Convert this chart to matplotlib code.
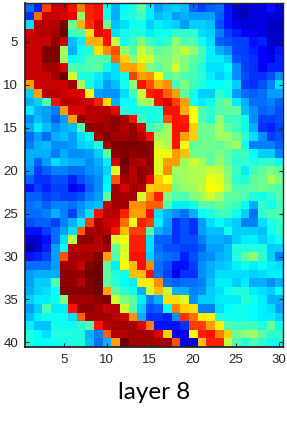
import matplotlib
matplotlib.use('Agg')
import matplotlib.pyplot as plt
import numpy as np
from matplotlib.colors import ListedColormap

# one row per line, values are indices into a 64 level jet map
layer_values = [
    [14,9,52,58,58,55,48,54,55,24,18,23,25,29,22,17,19,20,19,13,11,13,14,8,5,3,5,5,8,5],
    [10,49,58,58,57,56,32,54,55,24,18,24,25,27,22,19,20,17,18,17,17,17,13,8,4,2,5,5,5,4],
    [21,59,59,59,62,30,45,53,57,30,19,21,24,24,20,22,21,20,17,20,20,19,12,8,6,5,5,5,3,3],
    [57,59,59,60,63,27,28,42,56,55,21,24,25,25,22,24,24,26,26,26,21,20,15,11,9,7,6,5,3,4],
    [58,58,58,61,58,19,22,45,45,55,35,24,27,31,27,25,26,32,28,28,24,21,13,12,11,11,8,9,4,3],
    [58,58,62,62,33,18,24,25,42,47,51,32,28,36,32,29,30,32,35,32,28,22,18,16,11,11,9,7,5,8],
    [58,58,62,62,33,23,25,28,28,28,49,43,32,37,36,31,31,33,31,29,27,22,22,20,12,11,10,7,6,9],
    [58,58,60,60,57,28,27,28,29,24,21,46,46,43,31,29,31,36,31,28,25,21,21,23,16,11,10,6,9,9],
    [58,58,58,60,63,36,25,25,22,19,21,24,52,46,47,40,28,30,28,27,26,22,20,22,16,12,10,10,12,16],
    [46,58,58,58,58,60,33,24,21,17,19,24,32,55,51,45,47,27,31,27,25,23,23,24,20,11,10,12,15,21],
    [20,46,59,59,58,57,57,40,17,16,16,21,27,36,54,55,50,46,29,24,20,20,26,24,17,14,13,14,17,17],
    [18,20,28,55,59,59,58,58,54,42,18,23,24,33,33,55,57,52,46,24,22,24,28,30,22,18,14,14,15,13],
    [22,18,17,15,46,57,57,59,59,59,56,25,24,25,25,25,55,55,45,40,28,26,28,29,29,19,16,13,14,12],
    [16,19,17,13,17,46,61,59,59,60,61,60,55,27,24,25,51,55,54,40,28,25,32,27,27,24,16,11,11,12],
    [18,22,19,16,18,19,28,61,61,60,61,59,61,57,27,29,33,55,55,43,30,30,33,29,27,24,18,10,9,11],
    [14,17,14,18,19,17,21,24,60,62,60,60,61,59,55,33,33,55,46,43,30,30,33,33,30,26,21,16,11,12],
    [15,18,19,16,16,17,20,21,25,60,62,62,62,62,61,36,34,55,38,29,30,30,29,31,33,24,15,15,15,13],
    [18,18,18,15,18,16,16,17,20,29,61,62,61,62,61,38,38,46,44,30,30,29,31,29,27,27,23,20,20,15],
    [18,13,17,21,19,18,18,16,18,22,57,63,60,59,61,37,46,46,33,36,33,29,32,29,26,26,25,26,26,23],
    [17,11,13,15,15,14,14,16,17,20,37,62,59,61,60,37,47,33,33,34,34,36,35,31,27,22,27,29,31,29],
    [13,10,10,12,12,9,12,14,16,22,51,60,59,61,56,43,39,32,33,34,34,38,37,32,26,25,29,30,34,31],
    [8,11,9,11,11,6,8,13,16,23,60,57,60,59,43,44,44,30,32,33,35,40,38,33,28,28,29,30,29,28],
    [13,13,11,12,11,11,12,15,17,29,60,60,60,36,47,54,31,28,28,31,33,36,33,29,29,28,25,24,26,28],
    [14,15,13,15,15,14,16,18,19,58,60,60,47,47,50,50,28,22,22,24,28,28,30,28,27,23,18,26,24,27],
    [14,14,15,18,15,11,17,21,55,59,59,54,46,46,55,21,18,16,14,18,23,25,27,27,24,20,14,26,28,28],
    [12,13,13,11,15,18,22,52,60,58,57,49,38,54,52,22,17,10,12,10,17,21,23,21,20,15,15,21,25,26],
    [8,8,11,14,17,21,50,60,60,59,55,44,52,52,29,18,16,10,12,10,17,19,19,24,20,20,20,19,24,26],
    [4,4,8,14,21,35,61,61,59,62,36,38,54,54,21,13,13,10,12,12,15,18,18,17,20,22,22,20,22,24],
    [1,4,9,17,23,59,59,59,59,60,29,36,54,54,21,14,12,12,11,11,13,17,17,19,25,25,25,25,20,20],
    [8,9,11,17,51,60,60,60,62,46,28,37,55,55,20,15,14,13,9,12,15,16,18,19,25,29,32,26,20,15],
    [14,14,14,17,60,60,58,62,63,29,22,40,44,55,47,14,12,8,8,11,16,18,19,20,22,24,22,24,22,21],
    [17,18,18,18,61,61,61,63,63,29,25,24,44,44,55,14,11,6,10,10,16,18,21,21,21,21,20,21,22,22],
    [17,20,20,28,61,61,59,62,63,29,26,23,22,41,41,47,14,13,14,14,15,19,22,22,20,22,18,18,16,18],
    [18,20,21,23,62,62,62,62,63,46,29,26,24,18,36,44,35,18,18,15,16,20,21,24,25,25,22,21,20,23],
    [20,22,22,24,31,60,60,60,61,62,36,31,29,22,15,18,42,42,37,16,20,20,22,22,22,26,24,22,18,18],
    [17,20,28,22,22,55,61,61,60,58,59,36,28,20,12,13,24,48,43,42,15,15,21,23,24,24,23,22,21,17],
    [19,22,24,24,24,21,50,60,60,60,59,58,47,18,10,10,9,16,53,49,41,41,25,24,24,24,23,22,22,20],
    [22,19,19,24,24,24,26,28,55,59,60,60,60,57,48,8,8,8,10,52,52,46,41,28,27,27,27,25,30,24],
    [25,23,21,25,25,25,25,18,15,50,59,59,60,60,60,57,43,6,6,40,54,55,48,43,30,32,33,29,26,26],
    [25,23,23,24,24,25,25,19,14,18,46,63,60,60,60,60,60,51,5,4,44,54,54,35,28,25,28,26,24,24],
]
x_ticks = [5, 10, 15, 20, 25, 30]
y_ticks = [5, 10, 15, 20, 25, 30, 35, 40]
caption = 'layer 8'

# matlab flavour of jet, cyan is purer than in matplotlib's
idx = np.arange(64)
green = np.clip(np.minimum((idx - 7) / 16, (55 - idx) / 16 + 1 / 16), 0, 1)
red = np.clip(np.minimum((idx - 23) / 16, (69 - idx) / 14), 0, 1)
blue = np.clip(np.minimum((idx + 9) / 16, (39 - idx) / 16), 0, 1)
jet64 = ListedColormap(np.column_stack([red, green, blue]))

W, H = 287, 421
fig = plt.figure(figsize=(W / 100, H / 100), dpi=100)
ax = fig.add_axes([25 / W, 1 - 346.7 / H, 258 / W, 343.4 / H])
ax.imshow(layer_values, cmap=jet64, vmin=0, vmax=63,
          aspect='auto', interpolation='nearest', extent=(0.5, 30.5, 40.5, 0.5))

ax.set_xticks(x_ticks)
ax.set_yticks(y_ticks)
ax.tick_params(direction='in', length=3, width=0.8, top=True, right=True,
               labelsize=9.5, pad=5, colors='#262626')
for lab in ax.get_xticklabels() + ax.get_yticklabels():
    lab.set_fontfamily('Liberation Sans')
for sp in ax.spines.values():
    sp.set_linewidth(1.0)
    sp.set_color('#262626')
ax.spines['left'].set_linewidth(1.3)
ax.spines['bottom'].set_linewidth(1.3)

fig.text(154 / W, 1 - 392.5 / H, caption, ha='center', va='center',
         fontsize=17.5, family='Lato', color='black')

fig.savefig('out.png', dpi=100)
plt.close()
